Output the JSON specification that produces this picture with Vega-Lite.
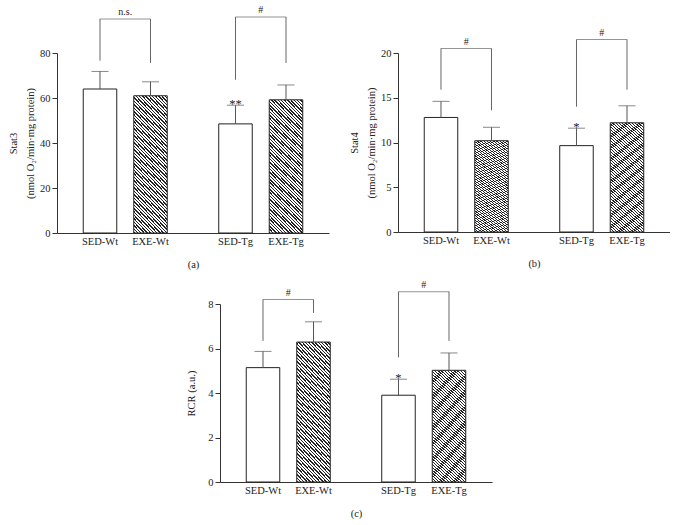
{
  "$schema": "https://vega.github.io/schema/vega-lite/v6.json",
  "background": "white",
  "padding": {"left": 8, "top": 5, "right": 0, "bottom": 5},
  "datasets": {
    "bars": [
      {"panel": "a", "genotype": "Wt", "treatment": "SED", "group": "SED-Wt", "value": 64, "upper": 71.8, "star": ""},
      {"panel": "a", "genotype": "Wt", "treatment": "EXE", "group": "EXE-Wt", "value": 61, "upper": 67.2, "star": ""},
      {"panel": "a", "genotype": "Tg", "treatment": "SED", "group": "SED-Tg", "value": 48.5, "upper": 56.8, "star": "**"},
      {"panel": "a", "genotype": "Tg", "treatment": "EXE", "group": "EXE-Tg", "value": 59.2, "upper": 65.8, "star": ""},
      {"panel": "b", "genotype": "Wt", "treatment": "SED", "group": "SED-Wt", "value": 12.8, "upper": 14.6, "star": ""},
      {"panel": "b", "genotype": "Wt", "treatment": "EXE", "group": "EXE-Wt", "value": 10.2, "upper": 11.7, "star": ""},
      {"panel": "b", "genotype": "Tg", "treatment": "SED", "group": "SED-Tg", "value": 9.65, "upper": 11.6, "star": "*"},
      {"panel": "b", "genotype": "Tg", "treatment": "EXE", "group": "EXE-Tg", "value": 12.2, "upper": 14.1, "star": ""},
      {"panel": "c", "genotype": "Wt", "treatment": "SED", "group": "SED-Wt", "value": 5.14, "upper": 5.87, "star": ""},
      {"panel": "c", "genotype": "Wt", "treatment": "EXE", "group": "EXE-Wt", "value": 6.29, "upper": 7.2, "star": ""},
      {"panel": "c", "genotype": "Tg", "treatment": "SED", "group": "SED-Tg", "value": 3.9, "upper": 4.62, "star": "*"},
      {"panel": "c", "genotype": "Tg", "treatment": "EXE", "group": "EXE-Tg", "value": 5.02, "upper": 5.8, "star": ""}
    ],
    "legs": [
      {"panel": "a", "genotype": "Wt", "treatment": "SED", "bottom": 76.6, "top": 95.1},
      {"panel": "a", "genotype": "Wt", "treatment": "EXE", "bottom": 75.6, "top": 95.1},
      {"panel": "a", "genotype": "Tg", "treatment": "SED", "bottom": 68.1, "top": 96},
      {"panel": "a", "genotype": "Tg", "treatment": "EXE", "bottom": 75.6, "top": 96},
      {"panel": "b", "genotype": "Wt", "treatment": "SED", "bottom": 15.9, "top": 20.5},
      {"panel": "b", "genotype": "Wt", "treatment": "EXE", "bottom": 13.6, "top": 20.5},
      {"panel": "b", "genotype": "Tg", "treatment": "SED", "bottom": 14.0, "top": 21.5},
      {"panel": "b", "genotype": "Tg", "treatment": "EXE", "bottom": 15.9, "top": 21.5},
      {"panel": "c", "genotype": "Wt", "treatment": "SED", "bottom": 6.34, "top": 8.2},
      {"panel": "c", "genotype": "Wt", "treatment": "EXE", "bottom": 7.6, "top": 8.2},
      {"panel": "c", "genotype": "Tg", "treatment": "SED", "bottom": 5.6, "top": 8.55},
      {"panel": "c", "genotype": "Tg", "treatment": "EXE", "bottom": 6.34, "top": 8.55}
    ],
    "tops": [
      {"panel": "a", "genotype": "Wt", "level": 95.1, "label": "n.s."},
      {"panel": "a", "genotype": "Tg", "level": 96, "label": "#"},
      {"panel": "b", "genotype": "Wt", "level": 20.5, "label": "#"},
      {"panel": "b", "genotype": "Tg", "level": 21.5, "label": "#"},
      {"panel": "c", "genotype": "Wt", "level": 8.2, "label": "#"},
      {"panel": "c", "genotype": "Tg", "level": 8.55, "label": "#"}
    ]
  },
  "vconcat": [
    {
      "spacing": 20,
      "hconcat": [
        {
          "width": 272, "height": 180,
          "encoding": {
            "x": {"field": "genotype", "type": "nominal", "sort": ["Wt", "Tg"], "scale": {"domain": ["Wt", "Tg"], "paddingInner": 0.38, "paddingOuter": 0.1937}, "axis": {"title": "(a)", "labels": false, "ticks": false, "titlePadding": 26}}
          },
          "layer": [
            {"data": {"name": "bars"}, "transform": [{"filter": "datum.panel==='a' && datum.treatment==='SED'"}],
             "mark": {"type": "bar", "fill": "white", "stroke": "#222", "strokeWidth": 1},
             "encoding": {"xOffset": {"field": "treatment", "type": "nominal", "scale": {"domain": ["SED", "EXE"], "paddingInner": 0.3366, "paddingOuter": 0}},
               "y": {"field": "value", "type": "quantitative", "scale": {"domain": [0, 80], "nice": false}, "axis": {"values": [0, 20, 40, 60, 80], "title": ["Stat3", "(nmol O₂/min·mg protein)"], "titlePadding": 4}}}},
            {"data": {"name": "bars"}, "transform": [{"filter": "datum.panel==='a' && datum.treatment==='EXE'"}],
             "mark": {"type": "bar", "stroke": "#222", "strokeWidth": 1},
             "encoding": {"xOffset": {"field": "treatment", "type": "nominal", "scale": {"domain": ["SED", "EXE"], "paddingInner": 0.3366, "paddingOuter": 0}},
               "y": {"field": "value", "type": "quantitative", "scale": {"domain": [0, 80], "nice": false}}}},
            {"data": {"name": "bars"}, "transform": [{"filter": "datum.panel==='a'"}],
             "mark": {"type": "rule", "color": "#555", "strokeWidth": 1},
             "encoding": {"xOffset": {"field": "treatment", "type": "nominal", "scale": {"domain": ["SED", "EXE"], "paddingInner": 0.3366, "paddingOuter": 0}},
               "y": {"field": "value", "type": "quantitative", "scale": {"domain": [0, 80], "nice": false}}, "y2": {"field": "upper"}}},
            {"data": {"name": "bars"}, "transform": [{"filter": "datum.panel==='a'"}],
             "mark": {"type": "tick", "orient": "horizontal", "color": "#555", "size": 17, "thickness": 1},
             "encoding": {"xOffset": {"field": "treatment", "type": "nominal", "scale": {"domain": ["SED", "EXE"], "paddingInner": 0.3366, "paddingOuter": 0}},
               "y": {"field": "upper", "type": "quantitative", "scale": {"domain": [0, 80], "nice": false}}}},
            {"data": {"name": "bars"}, "transform": [{"filter": "datum.panel==='a'"}],
             "mark": {"type": "text", "baseline": "alphabetic", "dy": 3, "fontSize": 12.5},
             "encoding": {"xOffset": {"field": "treatment", "type": "nominal", "scale": {"domain": ["SED", "EXE"], "paddingInner": 0.3366, "paddingOuter": 0}},
               "y": {"field": "upper", "type": "quantitative", "scale": {"domain": [0, 80], "nice": false}}, "text": {"field": "star"}}},
            {"data": {"name": "bars"}, "transform": [{"filter": "datum.panel==='a'"}],
             "mark": {"type": "text", "baseline": "top", "dy": 4},
             "encoding": {"xOffset": {"field": "treatment", "type": "nominal", "scale": {"domain": ["SED", "EXE"], "paddingInner": 0.3366, "paddingOuter": 0}},
               "y": {"datum": 0, "type": "quantitative", "scale": {"domain": [0, 80], "nice": false}}, "text": {"field": "group"}}},
            {"data": {"name": "legs"}, "transform": [{"filter": "datum.panel==='a'"}],
             "mark": {"type": "rule", "color": "#666", "strokeWidth": 1},
             "encoding": {"xOffset": {"field": "treatment", "type": "nominal", "scale": {"domain": ["SED", "EXE"], "paddingInner": 0.3366, "paddingOuter": 0}},
               "y": {"field": "bottom", "type": "quantitative", "scale": {"domain": [0, 80], "nice": false}}, "y2": {"field": "top"}}},
            {"data": {"name": "tops"}, "transform": [{"filter": "datum.panel==='a'"}],
             "mark": {"type": "tick", "orient": "horizontal", "color": "#666", "size": 51, "thickness": 1},
             "encoding": {"y": {"field": "level", "type": "quantitative", "scale": {"domain": [0, 80], "nice": false}}}},
            {"data": {"name": "tops"}, "transform": [{"filter": "datum.panel==='a'"}],
             "mark": {"type": "text", "baseline": "alphabetic", "dy": -4, "fontSize": 10},
             "encoding": {"y": {"field": "level", "type": "quantitative", "scale": {"domain": [0, 80], "nice": false}}, "text": {"field": "label"}}}
          ]
        },
        {
          "width": 272, "height": 179,
          "encoding": {
            "x": {"field": "genotype", "type": "nominal", "sort": ["Wt", "Tg"], "scale": {"domain": ["Wt", "Tg"], "paddingInner": 0.38, "paddingOuter": 0.1937}, "axis": {"title": "(b)", "labels": false, "ticks": false, "titlePadding": 26}}
          },
          "layer": [
            {"data": {"name": "bars"}, "transform": [{"filter": "datum.panel==='b' && datum.treatment==='SED'"}],
             "mark": {"type": "bar", "fill": "white", "stroke": "#222", "strokeWidth": 1},
             "encoding": {"xOffset": {"field": "treatment", "type": "nominal", "scale": {"domain": ["SED", "EXE"], "paddingInner": 0.3366, "paddingOuter": 0}},
               "y": {"field": "value", "type": "quantitative", "scale": {"domain": [0, 20], "nice": false}, "axis": {"values": [0, 5, 10, 15, 20], "title": ["Stat4", "(nmol O₂/min·mg protein)"], "titlePadding": 4}}}},
            {"data": {"name": "bars"}, "transform": [{"filter": "datum.panel==='b' && datum.treatment==='EXE'"}],
             "mark": {"type": "bar", "stroke": "#222", "strokeWidth": 1},
             "encoding": {"xOffset": {"field": "treatment", "type": "nominal", "scale": {"domain": ["SED", "EXE"], "paddingInner": 0.3366, "paddingOuter": 0}},
               "y": {"field": "value", "type": "quantitative", "scale": {"domain": [0, 20], "nice": false}}}},
            {"data": {"name": "bars"}, "transform": [{"filter": "datum.panel==='b'"}],
             "mark": {"type": "rule", "color": "#555", "strokeWidth": 1},
             "encoding": {"xOffset": {"field": "treatment", "type": "nominal", "scale": {"domain": ["SED", "EXE"], "paddingInner": 0.3366, "paddingOuter": 0}},
               "y": {"field": "value", "type": "quantitative", "scale": {"domain": [0, 20], "nice": false}}, "y2": {"field": "upper"}}},
            {"data": {"name": "bars"}, "transform": [{"filter": "datum.panel==='b'"}],
             "mark": {"type": "tick", "orient": "horizontal", "color": "#555", "size": 17, "thickness": 1},
             "encoding": {"xOffset": {"field": "treatment", "type": "nominal", "scale": {"domain": ["SED", "EXE"], "paddingInner": 0.3366, "paddingOuter": 0}},
               "y": {"field": "upper", "type": "quantitative", "scale": {"domain": [0, 20], "nice": false}}}},
            {"data": {"name": "bars"}, "transform": [{"filter": "datum.panel==='b'"}],
             "mark": {"type": "text", "baseline": "alphabetic", "dy": 3, "fontSize": 12.5},
             "encoding": {"xOffset": {"field": "treatment", "type": "nominal", "scale": {"domain": ["SED", "EXE"], "paddingInner": 0.3366, "paddingOuter": 0}},
               "y": {"field": "upper", "type": "quantitative", "scale": {"domain": [0, 20], "nice": false}}, "text": {"field": "star"}}},
            {"data": {"name": "bars"}, "transform": [{"filter": "datum.panel==='b'"}],
             "mark": {"type": "text", "baseline": "top", "dy": 4},
             "encoding": {"xOffset": {"field": "treatment", "type": "nominal", "scale": {"domain": ["SED", "EXE"], "paddingInner": 0.3366, "paddingOuter": 0}},
               "y": {"datum": 0, "type": "quantitative", "scale": {"domain": [0, 20], "nice": false}}, "text": {"field": "group"}}},
            {"data": {"name": "legs"}, "transform": [{"filter": "datum.panel==='b'"}],
             "mark": {"type": "rule", "color": "#666", "strokeWidth": 1},
             "encoding": {"xOffset": {"field": "treatment", "type": "nominal", "scale": {"domain": ["SED", "EXE"], "paddingInner": 0.3366, "paddingOuter": 0}},
               "y": {"field": "bottom", "type": "quantitative", "scale": {"domain": [0, 20], "nice": false}}, "y2": {"field": "top"}}},
            {"data": {"name": "tops"}, "transform": [{"filter": "datum.panel==='b'"}],
             "mark": {"type": "tick", "orient": "horizontal", "color": "#666", "size": 51, "thickness": 1},
             "encoding": {"y": {"field": "level", "type": "quantitative", "scale": {"domain": [0, 20], "nice": false}}}},
            {"data": {"name": "tops"}, "transform": [{"filter": "datum.panel==='b'"}],
             "mark": {"type": "text", "baseline": "alphabetic", "dy": -4, "fontSize": 10},
             "encoding": {"y": {"field": "level", "type": "quantitative", "scale": {"domain": [0, 20], "nice": false}}, "text": {"field": "label"}}}
          ]
        }
      ]
    },
    {
      "spacing": 0,
      "hconcat": [
        {"width": 129, "height": 178, "data": {"values": []}, "mark": {"type": "point", "opacity": 0}},
        {
          "width": 272, "height": 178,
          "encoding": {
            "x": {"field": "genotype", "type": "nominal", "sort": ["Wt", "Tg"], "scale": {"domain": ["Wt", "Tg"], "paddingInner": 0.38, "paddingOuter": 0.1937}, "axis": {"title": "(c)", "labels": false, "ticks": false, "titlePadding": 26}}
          },
          "layer": [
            {"data": {"name": "bars"}, "transform": [{"filter": "datum.panel==='c' && datum.treatment==='SED'"}],
             "mark": {"type": "bar", "fill": "white", "stroke": "#222", "strokeWidth": 1},
             "encoding": {"xOffset": {"field": "treatment", "type": "nominal", "scale": {"domain": ["SED", "EXE"], "paddingInner": 0.3366, "paddingOuter": 0}},
               "y": {"field": "value", "type": "quantitative", "scale": {"domain": [0, 8], "nice": false}, "axis": {"values": [0, 2, 4, 6, 8], "title": "RCR (a.u.)", "titlePadding": 11}}}},
            {"data": {"name": "bars"}, "transform": [{"filter": "datum.panel==='c' && datum.treatment==='EXE'"}],
             "mark": {"type": "bar", "stroke": "#222", "strokeWidth": 1},
             "encoding": {"xOffset": {"field": "treatment", "type": "nominal", "scale": {"domain": ["SED", "EXE"], "paddingInner": 0.3366, "paddingOuter": 0}},
               "y": {"field": "value", "type": "quantitative", "scale": {"domain": [0, 8], "nice": false}}}},
            {"data": {"name": "bars"}, "transform": [{"filter": "datum.panel==='c'"}],
             "mark": {"type": "rule", "color": "#555", "strokeWidth": 1},
             "encoding": {"xOffset": {"field": "treatment", "type": "nominal", "scale": {"domain": ["SED", "EXE"], "paddingInner": 0.3366, "paddingOuter": 0}},
               "y": {"field": "value", "type": "quantitative", "scale": {"domain": [0, 8], "nice": false}}, "y2": {"field": "upper"}}},
            {"data": {"name": "bars"}, "transform": [{"filter": "datum.panel==='c'"}],
             "mark": {"type": "tick", "orient": "horizontal", "color": "#555", "size": 17, "thickness": 1},
             "encoding": {"xOffset": {"field": "treatment", "type": "nominal", "scale": {"domain": ["SED", "EXE"], "paddingInner": 0.3366, "paddingOuter": 0}},
               "y": {"field": "upper", "type": "quantitative", "scale": {"domain": [0, 8], "nice": false}}}},
            {"data": {"name": "bars"}, "transform": [{"filter": "datum.panel==='c'"}],
             "mark": {"type": "text", "baseline": "alphabetic", "dy": 3, "fontSize": 12.5},
             "encoding": {"xOffset": {"field": "treatment", "type": "nominal", "scale": {"domain": ["SED", "EXE"], "paddingInner": 0.3366, "paddingOuter": 0}},
               "y": {"field": "upper", "type": "quantitative", "scale": {"domain": [0, 8], "nice": false}}, "text": {"field": "star"}}},
            {"data": {"name": "bars"}, "transform": [{"filter": "datum.panel==='c'"}],
             "mark": {"type": "text", "baseline": "top", "dy": 4},
             "encoding": {"xOffset": {"field": "treatment", "type": "nominal", "scale": {"domain": ["SED", "EXE"], "paddingInner": 0.3366, "paddingOuter": 0}},
               "y": {"datum": 0, "type": "quantitative", "scale": {"domain": [0, 8], "nice": false}}, "text": {"field": "group"}}},
            {"data": {"name": "legs"}, "transform": [{"filter": "datum.panel==='c'"}],
             "mark": {"type": "rule", "color": "#666", "strokeWidth": 1},
             "encoding": {"xOffset": {"field": "treatment", "type": "nominal", "scale": {"domain": ["SED", "EXE"], "paddingInner": 0.3366, "paddingOuter": 0}},
               "y": {"field": "bottom", "type": "quantitative", "scale": {"domain": [0, 8], "nice": false}}, "y2": {"field": "top"}}},
            {"data": {"name": "tops"}, "transform": [{"filter": "datum.panel==='c'"}],
             "mark": {"type": "tick", "orient": "horizontal", "color": "#666", "size": 51, "thickness": 1},
             "encoding": {"y": {"field": "level", "type": "quantitative", "scale": {"domain": [0, 8], "nice": false}}}},
            {"data": {"name": "tops"}, "transform": [{"filter": "datum.panel==='c'"}],
             "mark": {"type": "text", "baseline": "alphabetic", "dy": -4, "fontSize": 10},
             "encoding": {"y": {"field": "level", "type": "quantitative", "scale": {"domain": [0, 8], "nice": false}}, "text": {"field": "label"}}}
          ]
        }
      ]
    }
  ],
  "spacing": 9,
  "config": {
    "font": "Liberation Serif",
    "view": {"stroke": null},
    "axis": {"grid": false, "labelFont": "Liberation Serif", "labelFontSize": 10.5, "labelColor": "#222", "titleFont": "Liberation Serif", "titleFontSize": 10.5, "titleFontWeight": "normal", "titleColor": "#222", "titleLineHeight": 17, "domainColor": "#333", "tickColor": "#333", "tickSize": 5, "labelPadding": 2},
    "text": {"font": "Liberation Serif", "fontSize": 10.5, "color": "#222"},
    "bar": {
        "fill": {"gradient": "linear", "x1": 0, "y1": 1, "x2": 0.309, "y2": -0.181, "stops": [
          {"offset": 0, "color": "#222"}, {"offset": 0.009, "color": "#222"}, {"offset": 0.009, "color": "#fff"}, {"offset": 0.02, "color": "#fff"},
          {"offset": 0.02, "color": "#222"}, {"offset": 0.029, "color": "#222"}, {"offset": 0.029, "color": "#fff"}, {"offset": 0.04, "color": "#fff"},
          {"offset": 0.04, "color": "#222"}, {"offset": 0.049, "color": "#222"}, {"offset": 0.049, "color": "#fff"}, {"offset": 0.06, "color": "#fff"},
          {"offset": 0.06, "color": "#222"}, {"offset": 0.069, "color": "#222"}, {"offset": 0.069, "color": "#fff"}, {"offset": 0.08, "color": "#fff"},
          {"offset": 0.08, "color": "#222"}, {"offset": 0.089, "color": "#222"}, {"offset": 0.089, "color": "#fff"}, {"offset": 0.1, "color": "#fff"},
          {"offset": 0.1, "color": "#222"}, {"offset": 0.109, "color": "#222"}, {"offset": 0.109, "color": "#fff"}, {"offset": 0.12, "color": "#fff"},
          {"offset": 0.12, "color": "#222"}, {"offset": 0.129, "color": "#222"}, {"offset": 0.129, "color": "#fff"}, {"offset": 0.14, "color": "#fff"},
          {"offset": 0.14, "color": "#222"}, {"offset": 0.149, "color": "#222"}, {"offset": 0.149, "color": "#fff"}, {"offset": 0.16, "color": "#fff"},
          {"offset": 0.16, "color": "#222"}, {"offset": 0.169, "color": "#222"}, {"offset": 0.169, "color": "#fff"}, {"offset": 0.18, "color": "#fff"},
          {"offset": 0.18, "color": "#222"}, {"offset": 0.189, "color": "#222"}, {"offset": 0.189, "color": "#fff"}, {"offset": 0.2, "color": "#fff"},
          {"offset": 0.2, "color": "#222"}, {"offset": 0.209, "color": "#222"}, {"offset": 0.209, "color": "#fff"}, {"offset": 0.22, "color": "#fff"},
          {"offset": 0.22, "color": "#222"}, {"offset": 0.229, "color": "#222"}, {"offset": 0.229, "color": "#fff"}, {"offset": 0.24, "color": "#fff"},
          {"offset": 0.24, "color": "#222"}, {"offset": 0.249, "color": "#222"}, {"offset": 0.249, "color": "#fff"}, {"offset": 0.26, "color": "#fff"},
          {"offset": 0.26, "color": "#222"}, {"offset": 0.269, "color": "#222"}, {"offset": 0.269, "color": "#fff"}, {"offset": 0.28, "color": "#fff"},
          {"offset": 0.28, "color": "#222"}, {"offset": 0.289, "color": "#222"}, {"offset": 0.289, "color": "#fff"}, {"offset": 0.3, "color": "#fff"},
          {"offset": 0.3, "color": "#222"}, {"offset": 0.309, "color": "#222"}, {"offset": 0.309, "color": "#fff"}, {"offset": 0.32, "color": "#fff"},
          {"offset": 0.32, "color": "#222"}, {"offset": 0.329, "color": "#222"}, {"offset": 0.329, "color": "#fff"}, {"offset": 0.34, "color": "#fff"},
          {"offset": 0.34, "color": "#222"}, {"offset": 0.349, "color": "#222"}, {"offset": 0.349, "color": "#fff"}, {"offset": 0.36, "color": "#fff"},
          {"offset": 0.36, "color": "#222"}, {"offset": 0.369, "color": "#222"}, {"offset": 0.369, "color": "#fff"}, {"offset": 0.38, "color": "#fff"},
          {"offset": 0.38, "color": "#222"}, {"offset": 0.389, "color": "#222"}, {"offset": 0.389, "color": "#fff"}, {"offset": 0.4, "color": "#fff"},
          {"offset": 0.4, "color": "#222"}, {"offset": 0.409, "color": "#222"}, {"offset": 0.409, "color": "#fff"}, {"offset": 0.42, "color": "#fff"},
          {"offset": 0.42, "color": "#222"}, {"offset": 0.429, "color": "#222"}, {"offset": 0.429, "color": "#fff"}, {"offset": 0.44, "color": "#fff"},
          {"offset": 0.44, "color": "#222"}, {"offset": 0.449, "color": "#222"}, {"offset": 0.449, "color": "#fff"}, {"offset": 0.46, "color": "#fff"},
          {"offset": 0.46, "color": "#222"}, {"offset": 0.469, "color": "#222"}, {"offset": 0.469, "color": "#fff"}, {"offset": 0.48, "color": "#fff"},
          {"offset": 0.48, "color": "#222"}, {"offset": 0.489, "color": "#222"}, {"offset": 0.489, "color": "#fff"}, {"offset": 0.5, "color": "#fff"},
          {"offset": 0.5, "color": "#222"}, {"offset": 0.509, "color": "#222"}, {"offset": 0.509, "color": "#fff"}, {"offset": 0.52, "color": "#fff"},
          {"offset": 0.52, "color": "#222"}, {"offset": 0.529, "color": "#222"}, {"offset": 0.529, "color": "#fff"}, {"offset": 0.54, "color": "#fff"},
          {"offset": 0.54, "color": "#222"}, {"offset": 0.549, "color": "#222"}, {"offset": 0.549, "color": "#fff"}, {"offset": 0.56, "color": "#fff"},
          {"offset": 0.56, "color": "#222"}, {"offset": 0.569, "color": "#222"}, {"offset": 0.569, "color": "#fff"}, {"offset": 0.58, "color": "#fff"},
          {"offset": 0.58, "color": "#222"}, {"offset": 0.589, "color": "#222"}, {"offset": 0.589, "color": "#fff"}, {"offset": 0.6, "color": "#fff"},
          {"offset": 0.6, "color": "#222"}, {"offset": 0.609, "color": "#222"}, {"offset": 0.609, "color": "#fff"}, {"offset": 0.62, "color": "#fff"},
          {"offset": 0.62, "color": "#222"}, {"offset": 0.629, "color": "#222"}, {"offset": 0.629, "color": "#fff"}, {"offset": 0.64, "color": "#fff"},
          {"offset": 0.64, "color": "#222"}, {"offset": 0.649, "color": "#222"}, {"offset": 0.649, "color": "#fff"}, {"offset": 0.66, "color": "#fff"},
          {"offset": 0.66, "color": "#222"}, {"offset": 0.669, "color": "#222"}, {"offset": 0.669, "color": "#fff"}, {"offset": 0.68, "color": "#fff"},
          {"offset": 0.68, "color": "#222"}, {"offset": 0.689, "color": "#222"}, {"offset": 0.689, "color": "#fff"}, {"offset": 0.7, "color": "#fff"},
          {"offset": 0.7, "color": "#222"}, {"offset": 0.709, "color": "#222"}, {"offset": 0.709, "color": "#fff"}, {"offset": 0.72, "color": "#fff"},
          {"offset": 0.72, "color": "#222"}, {"offset": 0.729, "color": "#222"}, {"offset": 0.729, "color": "#fff"}, {"offset": 0.74, "color": "#fff"},
          {"offset": 0.74, "color": "#222"}, {"offset": 0.749, "color": "#222"}, {"offset": 0.749, "color": "#fff"}, {"offset": 0.76, "color": "#fff"},
          {"offset": 0.76, "color": "#222"}, {"offset": 0.769, "color": "#222"}, {"offset": 0.769, "color": "#fff"}, {"offset": 0.78, "color": "#fff"},
          {"offset": 0.78, "color": "#222"}, {"offset": 0.789, "color": "#222"}, {"offset": 0.789, "color": "#fff"}, {"offset": 0.8, "color": "#fff"},
          {"offset": 0.8, "color": "#222"}, {"offset": 0.809, "color": "#222"}, {"offset": 0.809, "color": "#fff"}, {"offset": 0.82, "color": "#fff"},
          {"offset": 0.82, "color": "#222"}, {"offset": 0.829, "color": "#222"}, {"offset": 0.829, "color": "#fff"}, {"offset": 0.84, "color": "#fff"},
          {"offset": 0.84, "color": "#222"}, {"offset": 0.849, "color": "#222"}, {"offset": 0.849, "color": "#fff"}, {"offset": 0.86, "color": "#fff"},
          {"offset": 0.86, "color": "#222"}, {"offset": 0.869, "color": "#222"}, {"offset": 0.869, "color": "#fff"}, {"offset": 0.88, "color": "#fff"},
          {"offset": 0.88, "color": "#222"}, {"offset": 0.889, "color": "#222"}, {"offset": 0.889, "color": "#fff"}, {"offset": 0.9, "color": "#fff"},
          {"offset": 0.9, "color": "#222"}, {"offset": 0.909, "color": "#222"}, {"offset": 0.909, "color": "#fff"}, {"offset": 0.92, "color": "#fff"},
          {"offset": 0.92, "color": "#222"}, {"offset": 0.929, "color": "#222"}, {"offset": 0.929, "color": "#fff"}, {"offset": 0.94, "color": "#fff"},
          {"offset": 0.94, "color": "#222"}, {"offset": 0.949, "color": "#222"}, {"offset": 0.949, "color": "#fff"}, {"offset": 0.96, "color": "#fff"},
          {"offset": 0.96, "color": "#222"}, {"offset": 0.969, "color": "#222"}, {"offset": 0.969, "color": "#fff"}, {"offset": 0.98, "color": "#fff"},
          {"offset": 0.98, "color": "#222"}, {"offset": 0.989, "color": "#222"}, {"offset": 0.989, "color": "#fff"}, {"offset": 1, "color": "#fff"}
        ]}
    }
  }
}
